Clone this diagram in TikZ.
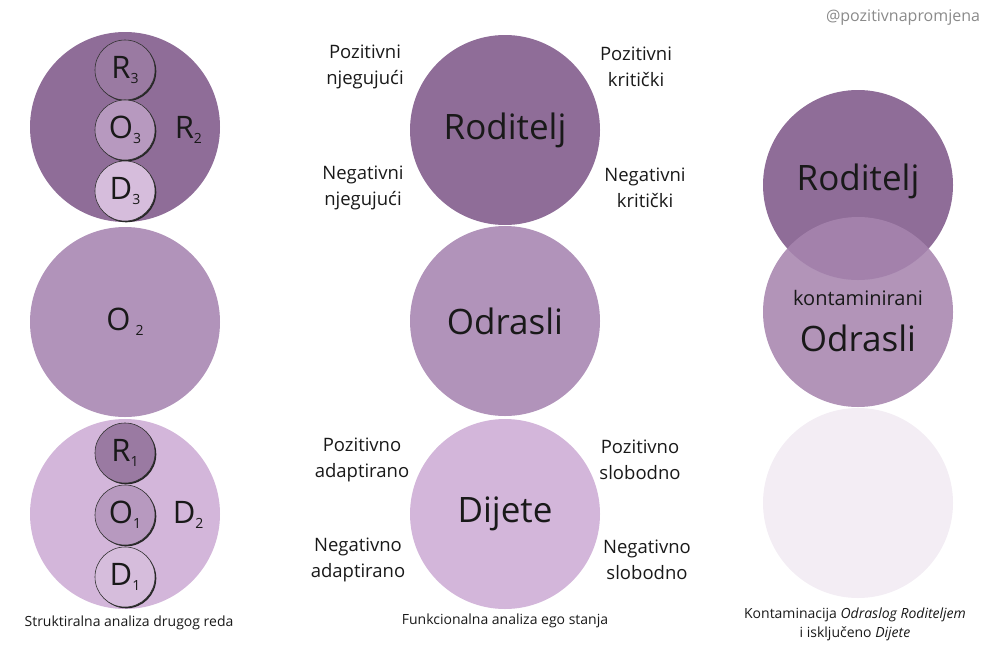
\documentclass[tikz,border=0pt]{standalone}
\usepackage{fontspec}
\setmainfont{Open Sans}
\usetikzlibrary{positioning,shadows}

\definecolor{egodark}{HTML}{8F6D98}
\definecolor{egomid}{HTML}{B193BA}
\definecolor{egolight}{HTML}{D3B6DA}
\definecolor{egopale}{HTML}{F3EDF4}
\definecolor{egoblend}{RGB}{166,132,174}
\definecolor{subdark}{HTML}{9A7AA2}
\definecolor{submid}{HTML}{B799BF}
\definecolor{sublight}{HTML}{D6BDDC}
\definecolor{inkgray}{HTML}{8A8A8A}

\newcommand{\egosub}[1]{\raisebox{-0.15em}{\fontsize{14}{14}\selectfont #1}}

\begin{document}
\begin{tikzpicture}[x=1pt, y=-1pt,
    ego/.style={circle, minimum size=190pt, inner sep=0pt, text=black!90},
    substate/.style={circle, draw=black!80, line width=0.6pt, minimum size=60pt,
      inner sep=0pt, text=black!90, font=\fontsize{31}{32}\selectfont,
      drop shadow={shadow xshift=1.3pt, shadow yshift=-1.3pt, opacity=1, fill=black!85}},
    big/.style={font=\fontsize{35}{38}\selectfont},
    mid/.style={font=\fontsize{31}{32}\selectfont, text=black!90},
    side/.style={align=center, font=\fontsize{18.5}{26}\selectfont, text=black!90},
    caption/.style={align=center, font=\fontsize{14}{19}\selectfont, text=black!90}]
  \useasboundingbox (0,0) rectangle (1000,648);

  % strukturalna analiza
  \node[ego, fill=egodark] (r2) at (125,127) {};
  \node[ego, fill=egomid, mid] (o2) at (125,322) {O\,\egosub{2}};
  \node[ego, fill=egolight] (d2) at (125,514) {};
  \node[substate, fill=subdark] (r3) at (125,70) {R\egosub{3}};
  \node[substate, fill=submid] (o3) at (125,130) {O\egosub{3}};
  \node[substate, fill=sublight] (d3) at (125,191) {D\egosub{3}};
  \node[mid, right=16pt of o3] (r2l) {R\egosub{2}};
  \node[substate, fill=subdark] (r1) at (125,453) {R\egosub{1}};
  \node[substate, fill=submid] (o1) at (125,515) {O\egosub{1}};
  \node[substate, fill=sublight] (d1) at (125,577) {D\egosub{1}};
  \node[mid, right=14pt of o1] (d2l) {D\egosub{2}};
  \node[caption] (cap1) at (129,623) {Struktiralna analiza drugog reda};

  % funkcionalna analiza
  \node[ego, fill=egodark, big] (rod) at (505,130) {Roditelj};
  \node[ego, fill=egomid, big] (odr) at (505,321) {Odrasli};
  \node[ego, fill=egolight, big] (dij) at (505,514) {Dijete};
  \node[side] (pn) at (365,67) {Pozitivni\\njegujući};
  \node[side] (pk) at (636,67) {Pozitivni\\kritički};
  \node[side] (nn) at (363,188) {Negativni\\njegujući};
  \node[side] (nk) at (645,188) {Negativni\\kritički};
  \node[side] (pa) at (362,460) {Pozitivno\\adaptirano};
  \node[side] (ps) at (640,460) {Pozitivno\\slobodno};
  \node[side] (na) at (358,560) {Negativno\\adaptirano};
  \node[side] (ns) at (647,560) {Negativno\\slobodno};
  \node[caption] (cap2) at (505,621) {Funkcionalna analiza ego stanja};

  % kontaminacija
  \node[ego, fill=egodark] (rodc) at (858,185) {};
  \node[big, text=black!90] (rodct) at (858,181) {Roditelj};
  \node[ego, fill=egoblend, fill opacity=0.87] (odrc) at (858,312) {};
  \node[side, font=\fontsize{20}{24}\selectfont] (kont) at (858,298) {kontaminirani};
  \node[big, text=black!90] (odrct) at (858,338) {Odrasli};
  \node[ego, fill=egopale] (dijc) at (858,503) {};
  \node[caption] (cap3) at (855,624) {Kontaminacija \textit{Odraslog Roditeljem}\\i isključeno \textit{Dijete}};

  \node[font=\fontsize{16}{18}\selectfont, text=inkgray] (mark) at (903,18) {@pozitivnapromjena};
\end{tikzpicture}
\end{document}
